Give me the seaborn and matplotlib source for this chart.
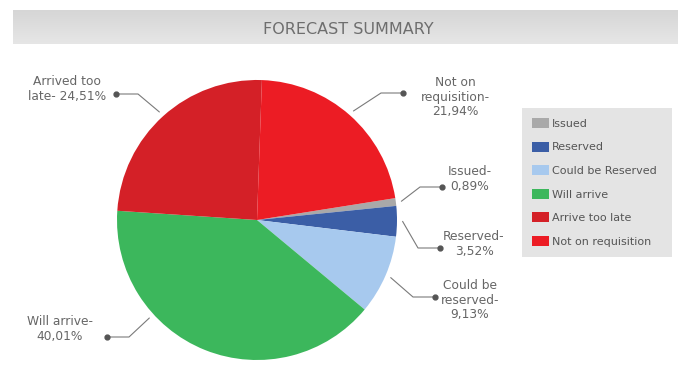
import matplotlib
matplotlib.use("Agg")
import matplotlib.pyplot as plt
from matplotlib.colors import LinearSegmentedColormap
import numpy as np
import seaborn as sns

# ---- data ----
categories = ["Issued", "Reserved", "Could be Reserved", "Will arrive",
              "Arrive too late", "Not on requisition"]
values = [0.89, 3.52, 9.13, 40.01, 24.51, 21.94]
callout_names = ["Issued-", "Reserved-", "Could be\nreserved-", "Will arrive-",
                 "Arrived too\nlate-", "Not on\nrequisition-"]
callout_seps = ["\n", "\n", "\n", "\n", " ", "\n"]
colors = ["#a9a9a9", "#3b5ea6", "#a7c9ee", "#3cb75c", "#d42027", "#ec1c24"]
title = "FORECAST SUMMARY"

sns.set_theme(style="white")
plt.rcParams['font.family'] = ['DejaVu Sans']

W, H = 678, 389
fig = plt.figure(figsize=(W / 100, H / 100), dpi=100)
fig.patch.set_facecolor("white")
ax = fig.add_axes([0, 0, 1, 1])

# title band (gradient)
band_cmap = LinearSegmentedColormap.from_list("band", ["#d6d6d6", "#e6e6e6"])
grad = np.linspace(0, 1, 50).reshape(-1, 1)
ax.imshow(grad, extent=[13, W, H - 44, H - 10], aspect="auto", cmap=band_cmap,
          origin="upper", zorder=0)
ax.text(348, H - 29, title, ha="center", va="center", fontsize=11.5,
        color="#6e6e6e", zorder=3)

# pie
cx, cy, R = 257, H - 220, 140
start = 9
wedges, _ = ax.pie(values, colors=colors, startangle=start, counterclock=False,
                   center=(cx, cy), radius=R, frame=True,
                   wedgeprops=dict(linewidth=0))

# callouts: layout (image coords) -> text center, dot position
text_pos = [(470, 179), (474, 244), (470, 300), (60, 329), (67, 89), (455, 97)]
dot_pos = [(442, 187), (440, 248), (435, 297), (107, 337), (116, 94), (403, 93)]
attach_frac = [0.5, 0.5, 0.5, 0.68, 0.5, 0.5]

total = sum(values)
a0 = start
for i, v in enumerate(values):
    span = 360 * v / total
    ang = np.deg2rad(a0 - span * attach_frac[i])
    a0 -= span
    ex = cx + 1.04 * R * np.cos(ang)
    ey = cy + 1.04 * R * np.sin(ang)
    dx, dy = dot_pos[i][0], H - dot_pos[i][1]
    elbow_x = dx + (-22 if dx > cx else 22)
    ax.plot([dx, elbow_x, ex], [dy, dy, ey], color="#7a7a7a", lw=0.8, zorder=4)
    ax.plot([dx], [dy], marker="o", ms=3.5, color="#555555", zorder=5)
    pct = f"{v:.2f}".replace(".", ",") + "%"
    ax.text(text_pos[i][0], H - text_pos[i][1], callout_names[i] + callout_seps[i] + pct,
            ha="center", va="center", multialignment="center", fontsize=8.8,
            color="#666666", zorder=5, linespacing=1.15)

ax.set_xlim(0, W)
ax.set_ylim(0, H)
ax.set_aspect("auto")
ax.axis("off")

leg = ax.legend(wedges, categories, loc="upper left",
                bbox_to_anchor=(522 / W, 1 - 112 / H, 150 / W, 0.01),
                bbox_transform=fig.transFigure, mode="expand",
                frameon=True, facecolor="#e4e4e4", edgecolor="none",
                fancybox=False, framealpha=1, fontsize=8,
                handlelength=1.5, handleheight=1.0, labelspacing=1.15,
                borderpad=0.9, handletextpad=0.3, borderaxespad=0)
for t in leg.get_texts():
    t.set_color("#555555")

fig.savefig("out.png", dpi=100, facecolor="white")
